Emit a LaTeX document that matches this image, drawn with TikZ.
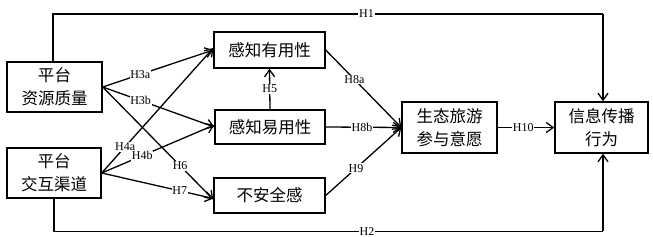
\documentclass[tikz,border=0pt]{standalone}
\usepackage{fontspec}
\setmainfont{Liberation Serif}
\newfontfamily\cjk{Noto Sans CJK SC}
\usetikzlibrary{arrows.meta}
\begin{document}
\begin{tikzpicture}[x=1pt,y=-1pt,
  box/.style={draw,line width=1.4pt,inner sep=0pt,align=center,font=\cjk\fontsize{16.5}{23}\selectfont},
  conn/.style={line width=1.3pt,-{Straight Barb[length=7pt,width=10pt,line width=1.3pt]}},
  plain/.style={line width=1.3pt},
  lab/.style={fill=white,inner sep=0.8pt,font=\fontsize{12}{12}\selectfont}]
\useasboundingbox (0,0) rectangle (653,237);
\node[box,minimum width=95pt,minimum height=50pt] (A) at (54.5,87) {平台\\资源质量};
\node[box,minimum width=94pt,minimum height=50pt] (B) at (54,173) {平台\\交互渠道};
\node[box,minimum width=111pt,minimum height=36pt] (PU) at (269.5,50) {感知有用性};
\node[box,minimum width=110pt,minimum height=34pt] (PE) at (270,127) {感知易用性};
\node[box,minimum width=111pt,minimum height=35pt] (NS) at (269.5,195.5) {不安全感};
\node[box,minimum width=95pt,minimum height=51pt] (W) at (449.5,127.5) {生态旅游\\参与意愿};
\node[box,minimum width=93pt,minimum height=51pt] (I) at (601.5,127.5) {信息传播\\行为};
\coordinate (h1a) at (53,14);
\coordinate (h1b) at (603,14);
\coordinate (h2a) at (54,231.5);
\coordinate (h2b) at (603,231.5);
% H1, H2
\draw[plain] (A.north -| h1a) -- (h1a) -- node[lab,pos=0.57]{H1} (h1b);
\draw[conn] (h1b) -- (I.north -| h1b);
\draw[plain] (B.south -| h2a) -- (h2a) -- node[lab,pos=0.57]{H2} (h2b);
\draw[conn] (h2b) -- (I.south -| h2b);
% from A
\draw[conn] (A.east) -- node[lab,pos=0.34]{H3a} (PU.west);
\draw[conn] (A.east) -- node[lab,pos=0.34]{H3b} (PE.west);
\draw[conn] (A.east) -- node[lab,pos=0.70]{H6} ([yshift=-4pt]NS.west);
% from B
\draw[conn] (B.east) -- node[lab,pos=0.21]{H4a} ([yshift=2pt]PU.west);
\draw[conn] (B.east) -- node[lab,pos=0.36]{H4b} ([yshift=2pt]PE.west);
\draw[conn] (B.east) -- node[lab,pos=0.70]{H7} ([yshift=-3pt]NS.west);
% H5
\draw[conn] (PE.north) -- node[lab]{H5} (PU.south);
% to W
\draw[conn] (PU.east) -- node[lab,pos=0.38]{H8a} (W.west);
\draw[conn] (PE.east) -- node[lab,pos=0.48]{H8b} (W.west);
\draw[conn] (NS.east) -- node[lab,pos=0.40]{H9} (W.west);
\draw[conn] (W.east) -- node[lab,pos=0.45]{H10} (I.west);
\end{tikzpicture}
\end{document}
